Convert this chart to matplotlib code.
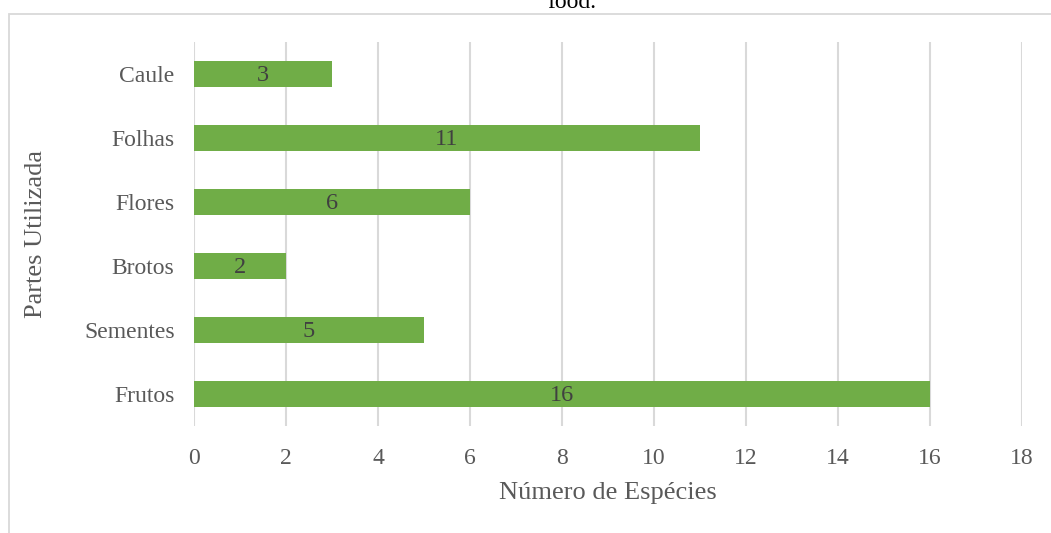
import matplotlib.pyplot as plt
from matplotlib.patches import Rectangle

# dados
partes = ['Frutos', 'Sementes', 'Brotos', 'Flores', 'Folhas', 'Caule']
especies = [16, 5, 2, 6, 11, 3]
xticks = [0, 2, 4, 6, 8, 10, 12, 14, 16, 18]

plt.rcParams['font.family'] = ['Liberation Serif', 'DejaVu Serif']

fig = plt.figure(figsize=(10.51, 5.33), dpi=100)
W, H = 1051, 533
ax = fig.add_axes([194 / W, 1 - 426 / H, (1022 - 194) / W, (426 - 42) / H])

# moldura do gráfico (cortada)
fig.patches.append(Rectangle((9 / W, -0.1), 1.2, 1 - 14 / H + 0.1, transform=fig.transFigure,
                             fill=False, edgecolor='#d9d9d9', linewidth=1.3))

bars = ax.barh(range(len(partes)), especies, height=0.4, color='#70ad47', zorder=3)
for b, v in zip(bars, especies):
    ax.text(b.get_width() / 2, b.get_y() + b.get_height() / 2 - 0.03, str(v),
            ha='center', va='center', fontsize=17.5, color='#404040', zorder=4)

ax.set_xlim(0, 18)
ax.set_ylim(-0.5, 5.5)
ax.set_xticks(xticks)
ax.set_yticks(range(len(partes)))
ax.set_yticklabels(partes)
ax.grid(axis='x', color='#d9d9d9', linewidth=1.5, zorder=0)
ax.tick_params(length=0, labelsize=17, labelcolor='#595959')
ax.tick_params(axis='x', pad=16)
ax.tick_params(axis='y', pad=14)
for s in ax.spines.values():
    s.set_visible(False)

ax.set_xlabel('Número de Espécies', fontsize=19, color='#595959')
ax.set_ylabel('Partes Utilizada', fontsize=19, color='#595959')
ax.xaxis.set_label_coords(0.5, (426 - 493) / 384)
ax.yaxis.set_label_coords((36 - 194) / 828, 0.5)
ax.xaxis.label.set_va('center')
ax.yaxis.label.set_va('center')

fig.text(572 / W, 1 - 3 / H, 'food.', ha='center', va='center', fontsize=17, color='#000000')

fig.savefig('out.png', dpi=100)
